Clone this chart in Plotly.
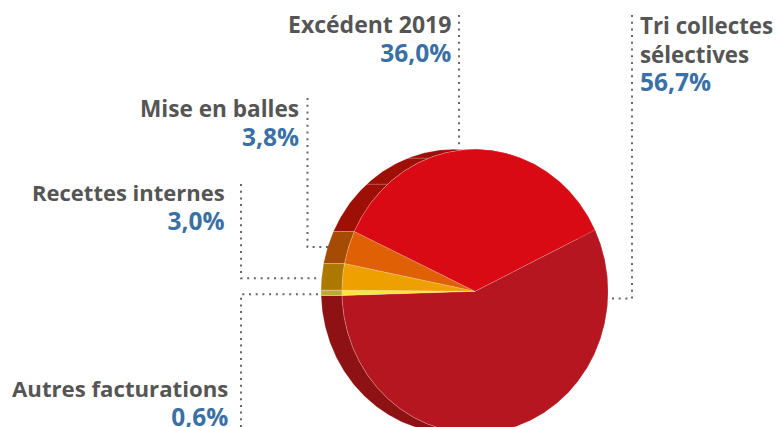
import numpy as np
import plotly.graph_objects as go

W, H = 777, 427
labels = ["Tri collectes sélectives", "Autres facturations", "Recettes internes", "Mise en balles", "Excédent 2019"]
shares = [56.7, 0.6, 3.0, 3.8, 36.0]
share_text = ["56,7%", "0,6%", "3,0%", "3,8%", "36,0%"]
face_colors = ["#b5161f", "#fbe53a", "#eda000", "#e06006", "#d90a14"]
side_colors = ["#8e1214", "#b9ab33", "#ad7800", "#a64b03", "#9e0f05"]
start_angle = 25.6
seam_angles = [131.1, 110.5]

cx, cy, rx, ry = 475.0, 291.3, 133.0, 142.0
depth = 21.0 / rx

fig = go.Figure()
total = sum(shares)
edges = start_angle - np.concatenate([[0], np.cumsum(shares)]) * 360 / total


def px(x):
    return x / W


def py(y):
    return 1 - y / H


for i, name in enumerate(labels):
    t = np.radians(np.linspace(edges[i], edges[i + 1], max(int(abs(edges[i + 1] - edges[i])) * 2, 6)))
    xs, ys = np.cos(t), np.sin(t)
    fig.add_trace(go.Scatter(
        x=np.concatenate([xs, (xs - depth)[::-1], xs[:1]]),
        y=np.concatenate([ys, ys[::-1], ys[:1]]),
        mode="lines", fill="toself", fillcolor=side_colors[i],
        line=dict(color="rgba(255,255,255,0.35)", width=0.7),
        hoverinfo="skip", showlegend=False))

for a in seam_angles:
    t = np.radians(a)
    fig.add_trace(go.Scatter(
        x=[np.cos(t), np.cos(t) - depth], y=[np.sin(t), np.sin(t)],
        mode="lines", line=dict(color="rgba(255,255,255,0.4)", width=0.8),
        hoverinfo="skip", showlegend=False))

for i, name in enumerate(labels):
    t = np.radians(np.linspace(edges[i], edges[i + 1], max(int(abs(edges[i + 1] - edges[i])) * 2, 6)))
    fig.add_trace(go.Scatter(
        x=np.concatenate([[0], np.cos(t), [0]]),
        y=np.concatenate([[0], np.sin(t), [0]]),
        mode="lines", fill="toself", fillcolor=face_colors[i],
        line=dict(color="rgba(255,255,255,0.3)", width=0.6),
        name=name, text=share_text[i], hoverinfo="name+text", showlegend=False))

leaders = [
    [(459, 15), (459, 149)],
    [(632, 15), (632, 298.5), (608, 298.5)],
    [(307.5, 98), (307.5, 247), (328, 247)],
    [(241, 184), (241, 278.3), (318, 278.3)],
    [(241, 427), (241, 294.3), (318, 294.3)],
]
shapes = []
for pts in leaders:
    path = "M " + " L ".join(f"{px(x):.5f} {py(y):.5f}" for x, y in pts)
    shapes.append(dict(type="path", xref="paper", yref="paper", path=path,
                       line=dict(color="#666666", width=2, dash="2px,4.7px")))

GREY, BLUE = "#555555", "#3a70a4"
FONT = "Open Sans"


def label(x, y, name_lines, value, anchor, name_size=22):
    lines = [f'<span style="font-size:{name_size}px"><b>{n}</b></span>' for n in name_lines]
    lines.append(f'<span style="color:{BLUE};font-size:24.5px"><b>{value}</b></span>')
    return dict(xref="paper", yref="paper", x=px(x), y=py(y), text="<br>".join(lines), showarrow=False,
                xanchor=anchor, yanchor="middle", align=anchor, borderpad=0, borderwidth=0,
                font=dict(family=FONT, size=22, color=GREY))


annotations = [
    label(451, 39, [labels[4]], share_text[4], "right", 23),
    label(640, 53.5, ["Tri collectes", "sélectives"], share_text[0], "left", 22.3),
    label(299, 123, [labels[3]], share_text[3], "right", 22.6),
    label(225, 207, [labels[2]], share_text[2], "right"),
    label(228, 403, [labels[1]], share_text[1], "right", 22.2),
]

fig.update_layout(
    width=W, height=H, margin=dict(l=0, r=0, t=0, b=0),
    paper_bgcolor="white", plot_bgcolor="white", showlegend=False,
    shapes=shapes, annotations=annotations,
    xaxis=dict(visible=False, range=[-cx / rx, (W - cx) / rx], fixedrange=True),
    yaxis=dict(visible=False, range=[-(H - cy) / ry, cy / ry], fixedrange=True),
)
fig.write_html("out.html", config={"displayModeBar": False},
               post_script="document.body.style.margin='0';document.documentElement.style.overflow='hidden';")
